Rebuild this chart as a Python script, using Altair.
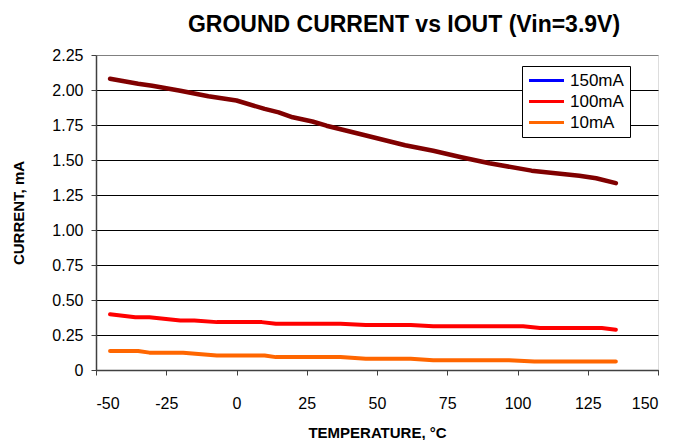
import altair as alt
import pandas as pd

FONT = "Liberation Sans"

SERIES = ["150mA", "100mA", "10mA"]
LEGEND_COLORS = ["#0000FF", "#FF0000", "#FF6600"]
LINE_150_COLOR = "#800000"

temp_150 = [-45, -35, -30, -20, -10, 0, 10, 15, 20, 27, 32, 45, 60, 70, 80, 90, 105, 122, 128, 135]
cur_150 = [2.08, 2.045, 2.03, 1.995, 1.955, 1.925, 1.865, 1.84, 1.805, 1.775, 1.745, 1.68, 1.605,
           1.566, 1.52, 1.477, 1.424, 1.388, 1.37, 1.335]

temp_100 = [-45, -36, -31, -20, -15, -7, 9, 14, 37, 46, 62, 70, 102, 108, 130, 135]
cur_100 = [0.398, 0.376, 0.376, 0.354, 0.354, 0.342, 0.342, 0.330, 0.330, 0.321, 0.321, 0.312,
           0.312, 0.300, 0.300, 0.288]

temp_10 = [-45, -35, -31, -19, -7, 10, 14, 37, 46, 62, 70, 97, 106, 135]
cur_10 = [0.136, 0.136, 0.124, 0.124, 0.104, 0.104, 0.092, 0.092, 0.080, 0.080, 0.070, 0.070,
          0.060, 0.060]

x_ticks = [-50, -25, 0, 25, 50, 75, 100, 125, 150]
y_ticks = [0, 0.25, 0.5, 0.75, 1.0, 1.25, 1.5, 1.75, 2.0, 2.25]

rows = []
for t, c in zip(temp_150, cur_150):
    rows.append({"series": "150mA", "temp": t, "current": c})
for t, c in zip(temp_100, cur_100):
    rows.append({"series": "100mA", "temp": t, "current": c})
for t, c in zip(temp_10, cur_10):
    rows.append({"series": "10mA", "temp": t, "current": c})
df = pd.DataFrame(rows)

W, H = 562, 315

x_enc = alt.X(
    "temp:Q",
    scale=alt.Scale(domain=[-50, 150], nice=False, zero=False),
    axis=alt.Axis(
        values=x_ticks, title="TEMPERATURE, °C", grid=False,
        labelExpr="'' + datum.value",
        labelFontSize=16, labelFont=FONT, labelColor="black",
        labelPadding=20, tickSize=5, tickColor="#404040",
        domainColor="#404040", domainWidth=1.5,
        titleFont=FONT, titleFontSize=15, titleFontWeight="bold", titleColor="black",
        titleX=W / 2, titleY=62, titleBaseline="middle", titleAlign="center",
    ),
)
y_enc = alt.Y(
    "current:Q",
    scale=alt.Scale(domain=[0, 2.25], nice=False),
    axis=alt.Axis(
        values=y_ticks, title="CURRENT, mA",
        labelExpr="datum.value == 0 ? '0' : format(datum.value, '.2f')",
        labelFontSize=16, labelFont=FONT, labelColor="black", labelPadding=8,
        tickSize=5, tickColor="#404040",
        domainColor="#404040", domainWidth=1.5,
        grid=True, gridColor={"condition": {"test": "datum.value == 2.25", "value": "#808080"}, "value": "black"},
        gridWidth=1,
        titleFont=FONT, titleFontSize=15, titleFontWeight="bold", titleColor="black",
        titleX=-78, titleY=H / 2, titleAngle=270, titleAlign="center", titleBaseline="middle",
    ),
)

colored = (
    alt.Chart(df)
    .transform_filter(alt.datum.series != "150mA")
    .mark_line(strokeWidth=4, strokeCap="round", strokeJoin="round")
    .encode(
        x=x_enc,
        y=y_enc,
        color=alt.Color(
            "series:N",
            scale=alt.Scale(domain=SERIES, range=LEGEND_COLORS),
            legend=alt.Legend(
                title=None, orient="none", legendX=426, legendY=11,
                symbolType="M-3,0L3,0", symbolSize=136, symbolStrokeWidth=3,
                symbolOffset=10,
                labelFont=FONT, labelFontSize=17, labelColor="black", labelOffset=15,
                rowPadding=3, padding=6, strokeColor="black", fillColor="white",
                cornerRadius=0,
            ),
            sort=SERIES,
        ),
    )
)

top = (
    alt.Chart(df)
    .transform_filter(alt.datum.series == "150mA")
    .mark_line(strokeWidth=4.5, strokeCap="round", strokeJoin="round", color=LINE_150_COLOR)
    .encode(x=x_enc, y=y_enc)
)

chart = (
    alt.layer(colored, top)
    .properties(
        width=W, height=H,
        title=alt.TitleParams(
            "GROUND CURRENT vs IOUT (Vin=3.9V)", font=FONT, fontSize=23, fontWeight="bold",
            color="black", anchor="middle", dx=27, offset=10,
        ),
        autosize=alt.AutoSizeParams(type="none"),
        padding={"left": 88, "top": 47, "right": 7, "bottom": 70},
    )
    .configure_view(stroke="#808080", strokeWidth=1)
    .configure(background="white")
)

chart.save("out.html", embed_options={"renderer": "svg", "actions": False})
